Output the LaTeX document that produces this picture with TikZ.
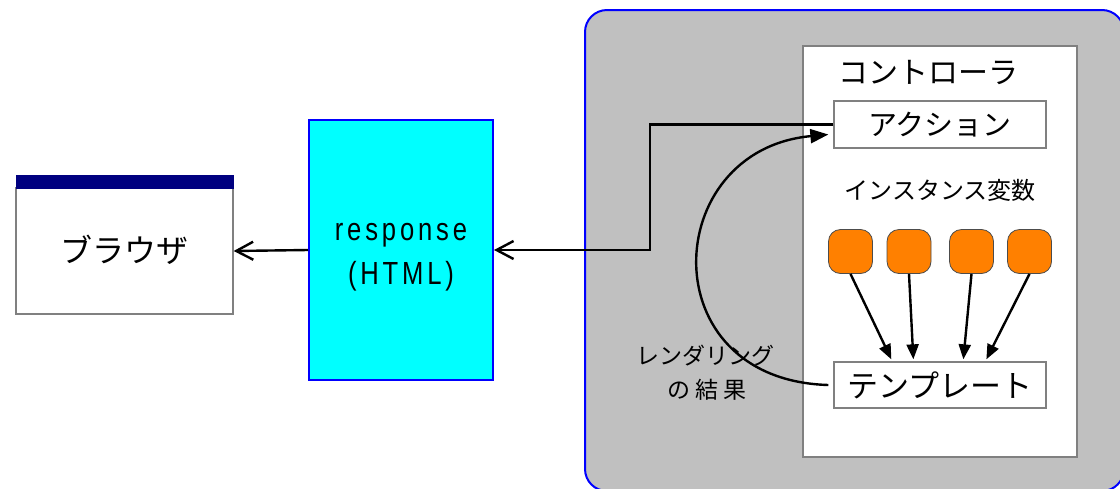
\documentclass[tikz,border=0pt]{standalone}
\usepackage{fontspec}
\setmainfont{Liberation Sans}
\newfontfamily\jp{Noto Sans CJK JP}
\newfontfamily\jpsp[LetterSpace=20]{Noto Sans CJK JP}
\newfontfamily\lat[FakeStretch=0.8,LetterSpace=12]{Liberation Sans}
\usetikzlibrary{arrows.meta,calc}
\definecolor{lgray}{HTML}{C0C0C0}
\definecolor{navyb}{HTML}{000080}
\definecolor{orng}{HTML}{FF8000}
\definecolor{cyanf}{HTML}{00FFFF}
\definecolor{bl}{HTML}{0000FF}
\definecolor{bord}{HTML}{808080}
\tikzset{
  plainbox/.style={draw=bord, line width=1.3pt, fill=white, inner sep=0pt},
  varbox/.style={draw=black!70, line width=0.8pt, fill=orng, rounded corners=12pt,
     minimum width=44pt, minimum height=44pt, inner sep=0pt},
  conn/.style={line width=2.4pt, black},
  openarrow/.style={conn, -{Straight Barb[length=17pt,width=18pt,line width=2.4pt]}},
  solidarrow/.style={conn, -{Triangle[length=15pt,width=12pt]}},
  txt/.style={inner sep=0pt}
}
\begin{document}
\begin{tikzpicture}[x=1pt,y=-1pt]
\useasboundingbox (0,0) rectangle (1120,488);
\clip (0,0) rectangle (1120,488);
\fill[white] (0,0) rectangle (1120,488);
% container
\draw[draw=bl, line width=2pt, fill=lgray, rounded corners=22pt] (585,10) rectangle (1124,491);
% browser
\node[plainbox, minimum width=217pt, minimum height=126pt] (browser) at (124.5,251) {};
\node[draw=navyb, fill=navyb, inner sep=0pt, minimum width=217pt, minimum height=13pt] (btitle) at (124.5,181.5) {};
\node[txt, font=\jp\fontsize{32}{38}\selectfont] (btext) at (124.5,250) {ブラウザ};
% response
\node[draw=bl, line width=2pt, fill=cyanf, inner sep=0pt, minimum width=184pt, minimum height=260pt] (resp) at (401,250) {};
\node[txt, anchor=base, font=\lat\fontsize{32}{38}\selectfont] (r1) at (401,240) {response};
\node[txt, anchor=base, font=\lat\fontsize{32}{38}\selectfont] (r2) at (401,284) {(HTML)};
% controller
\node[plainbox, minimum width=274pt, minimum height=411pt] (ctrl) at (940,251.5) {};
\node[txt, font=\jp\fontsize{30}{36}\selectfont] (ctitle) at (928,73) {コントローラ};
\node[plainbox, minimum width=212pt, minimum height=47pt] (act) at (940,124.5) {};
\node[txt, font=\jp\fontsize{29}{34}\selectfont] at (act) {アクション};
\node[txt, font=\jp\fontsize{24}{30}\selectfont] (ivar) at (940,190) {インスタンス変数};
\node[varbox] (v1) at (850.5,251.5) {};
\node[varbox] (v2) at (909,251.5) {};
\node[varbox] (v3) at (971.5,251.5) {};
\node[varbox] (v4) at (1029.5,251.5) {};
\node[plainbox, minimum width=212pt, minimum height=46pt] (tmpl) at (940,385) {};
\node[txt, font=\jp\fontsize{31}{36}\selectfont] at (tmpl) {テンプレート};
% rendering label
\node[txt, font=\jp\fontsize{23}{28}\selectfont] (rl1) at (705,356) {レンダリング};
\node[txt, font=\jpsp\fontsize{23}{28}\selectfont] (rl2) at (707,390) {の結果};
% connectors
\draw[solidarrow] (v1.south) -- ($(tmpl.north west)+(58,-2)$);
\draw[solidarrow] (v2.south) -- ($(tmpl.north west)+(80,-2)$);
\draw[solidarrow] (v3.south) -- ($(tmpl.north west)+(130,-2)$);
\draw[solidarrow] (v4.south) -- ($(tmpl.north west)+(153,-2)$);
\draw[conn, -{Triangle[length=18pt,width=14pt]}] ($(tmpl.west)+(-5,0)$) .. controls (650,380) and (660,150) .. ($(act.west)+(-5,10)$);
\draw[openarrow] (act.west) -- (650,124.5) |- (resp.east);
\draw[openarrow] (resp.west) -- (browser.east);
\end{tikzpicture}
\end{document}
